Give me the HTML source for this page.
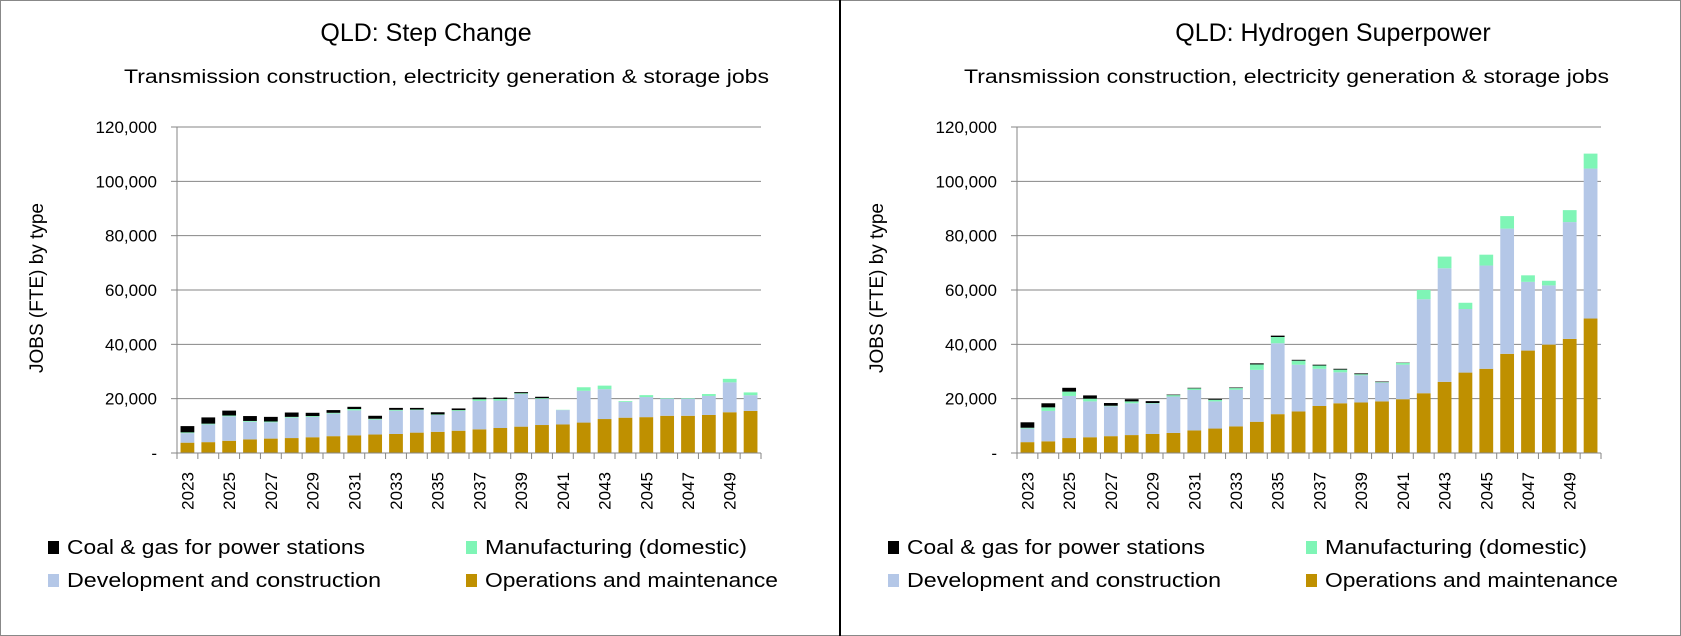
<!DOCTYPE html>
<html><head><meta charset="utf-8"><style>
html,body{margin:0;padding:0;background:#fff;}
svg{display:block;font-family:"Liberation Sans",sans-serif;}
</style></head><body>
<svg id="s" width="1681" height="636" viewBox="0 0 1681 636" xmlns="http://www.w3.org/2000/svg">
<rect x="0.5" y="0.5" width="1680" height="635" fill="#fff" stroke="#888"/>
<line x1="840" y1="0" x2="840" y2="636" stroke="#000" stroke-width="2"/>
</svg>
<script>
const years = [2023,2024,2025,2026,2027,2028,2029,2030,2031,2032,2033,2034,2035,2036,2037,2038,2039,2040,2041,2042,2043,2044,2045,2046,2047,2048,2049,2050];
const yTicks = [0,20000,40000,60000,80000,100000,120000];
const yTickLabels = ["-","20,000","40,000","60,000","80,000","100,000","120,000"];
// Step Change (thousands)
const scOM   = [3.8,4.0,4.5,5.0,5.3,5.5,5.8,6.2,6.5,6.8,7.0,7.5,7.8,8.2,8.7,9.2,9.7,10.3,10.5,11.2,12.5,13.0,13.2,13.7,13.7,14.0,15.0,15.5];
const scDev  = [3.5,6.5,9.0,6.5,6.0,7.5,7.5,8.3,9.2,5.5,8.6,8.3,6.2,7.3,10.5,10.1,12.0,9.6,5.3,11.7,11.0,5.8,7.4,6.3,6.3,7.0,11.0,5.8];
const scMfg  = [0.3,0.3,0.3,0.3,0.3,0.3,0.3,0.3,0.5,0.3,0.3,0.2,0.2,0.3,0.6,0.6,0.3,0.3,0.1,1.3,1.3,0.3,0.7,0.2,0.2,0.7,1.3,1.0];
const scCoal = [2.3,2.3,1.8,1.8,1.7,1.6,1.2,1.0,0.8,1.1,0.7,0.6,0.8,0.6,0.6,0.5,0.4,0.5,0,0,0,0,0,0,0,0,0,0];
// Hydrogen Superpower (thousands)
const hsOM   = [4.0,4.3,5.5,5.8,6.2,6.6,7.0,7.4,8.3,9.0,9.8,11.5,14.3,15.3,17.3,18.3,18.6,19.0,19.8,22.0,26.2,29.6,31.0,36.5,37.7,39.9,42.0,49.5];
const hsDev  = [5.0,11.2,15.5,13.2,11.0,11.7,11.2,13.4,14.9,10.0,13.5,19.1,26.1,17.2,13.7,11.4,10.0,6.9,12.7,34.6,41.8,23.4,38.0,46.1,25.3,21.8,43.0,55.2];
const hsMfg  = [0.3,1.3,1.6,1.0,0.2,0.7,0.2,0.5,0.6,0.6,0.6,2.0,2.3,1.5,1.2,1.0,0.4,0.2,0.7,3.4,4.3,2.3,4.0,4.6,2.4,1.7,4.4,5.5];
const hsCoal = [2.0,1.5,1.4,1.2,1.0,0.8,0.7,0.2,0.2,0.3,0.2,0.4,0.5,0.3,0.3,0.3,0.3,0.2,0.1,0,0,0,0,0,0,0,0,0];

const NS="http://www.w3.org/2000/svg";
const svg=document.getElementById('s');
const COLORS={coal:"#000000",mfg:"#7ff5b6",dev:"#b4c7e7",om:"#bf9000"};
function mk(tag,attrs,parent){const e=document.createElementNS(NS,tag);for(const k in attrs)e.setAttribute(k,attrs[k]);(parent||svg).appendChild(e);return e;}

function panel(ox,title,titleX,om,dev,mfg,coal,pname){
  const g=mk('g',{});
  
  
  const L=ox+177,R=ox+761,T=127,B=453;
  const yS=v=>B-(v/120000)*(B-T);
  const slot=(R-L)/years.length;
  const xS=i=>L+slot*i+slot/2;
  let t=mk('text',{x:titleX,y:41,'font-size':25,'text-anchor':'middle',fill:'#000'},g);t.textContent=title;
  
  
  t=mk('text',{x:ox+124,y:83,'font-size':19,fill:'#000',textLength:645,lengthAdjust:'spacingAndGlyphs'},g);t.textContent="Transmission construction, electricity generation & storage jobs";
  
  
  yTicks.forEach((v,i)=>{
    const y=yS(v);
    if(i>0){const l=mk('line',{x1:L,x2:R,y1:y,y2:y,stroke:'#868686','stroke-width':1},g);
      
      }
    const tk=mk('line',{x1:L-6,x2:L,y1:y,y2:y,stroke:'#868686'},g);
    
    
    const tx=mk('text',{x:ox+157,y:y+6,'font-size':17,'text-anchor':'end',fill:'#000'},g);tx.textContent=yTickLabels[i];
    
    
  });
  const ya=mk('line',{x1:L,x2:L,y1:T,y2:B,stroke:'#868686'},g);
  
  
  const yt=mk('text',{x:0,y:0,'font-size':19,'text-anchor':'middle',fill:'#000',transform:`translate(${ox+43},${288}) rotate(-90)`},g);yt.textContent="JOBS (FTE) by type";
  
  
  const bw=slot*0.66;
  years.forEach((yr,i)=>{
    let base=0;
    [['om',om[i]],['dev',dev[i]],['mfg',mfg[i]],['coal',coal[i]]].forEach(([k,v])=>{
      const val=v*1000;
      if(val<=0)return;
      const y1=yS(base+val),y0=yS(base);
      const r=mk('rect',{x:xS(i)-bw/2,y:y1,width:bw,height:y0-y1,fill:COLORS[k]},g);
      
      
      base+=val;
    });
  });
  const xa=mk('line',{x1:L,x2:R,y1:B,y2:B,stroke:'#868686'},g);
  
  
  for(let i=0;i<=years.length;i++){
    const x=L+slot*i;
    const tk=mk('line',{x1:x,x2:x,y1:B,y2:B+6,stroke:'#868686'},g);
    
    
  }
  years.forEach((yr,i)=>{
    if(i%2)return;
    const tx=mk('text',{x:0,y:0,'font-size':17,'text-anchor':'end',fill:'#000',transform:`translate(${xS(i)+6},${472}) rotate(-90)`},g);tx.textContent=yr;
    
    
  });
  const leg=[['coal',"Coal & gas for power stations",48,554,298],['mfg',"Manufacturing (domestic)",466,554,262],['dev',"Development and construction",48,587,314],['om',"Operations and maintenance",466,587,293]];
  leg.forEach(([k,label,lx,ly,w])=>{
    const r=mk('rect',{x:ox+lx,y:ly-13,width:11,height:13,fill:COLORS[k]},g);
    
    
    const tx=mk('text',{x:ox+lx+19,y:ly,'font-size':20,fill:'#000',textLength:w,lengthAdjust:'spacingAndGlyphs'},g);tx.textContent=label;
    
    
  });
}
panel(0,"QLD: Step Change",426,scOM,scDev,scMfg,scCoal,'step-change-panel');
panel(840,"QLD: Hydrogen Superpower",1333,hsOM,hsDev,hsMfg,hsCoal,'hydrogen-superpower-panel');
</script>
</body></html>
